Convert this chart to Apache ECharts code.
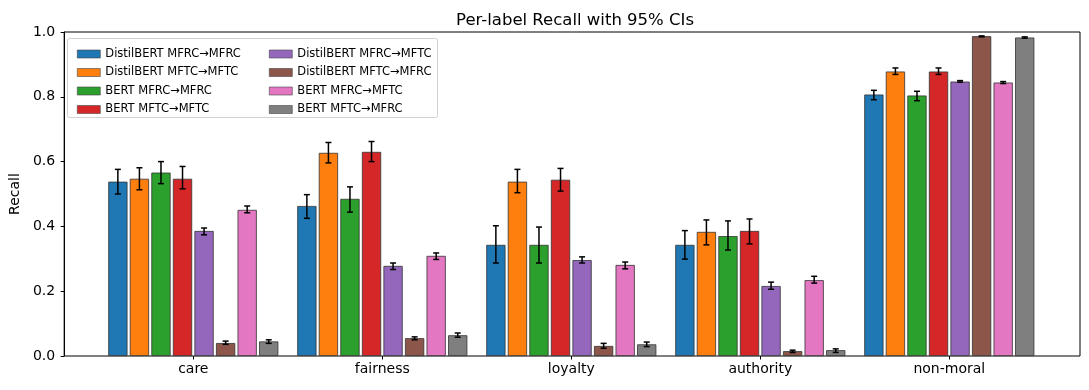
<!DOCTYPE html>
<html>
<head>
<meta charset="utf-8">
<script src="https://cdn.jsdelivr.net/npm/echarts@6/dist/echarts.min.js"></script>
<style>
  html, body { margin: 0; padding: 0; background: #fff; }
  #chart { width: 1089px; height: 390px; }
</style>
</head>
<body>
<div id="chart"></div>
<script>
// categories on the x axis
const labels = ['care', 'fairness', 'loyalty', 'authority', 'non-moral'];
const yTicks = [0, 0.2, 0.4, 0.6, 0.8, 1.0];

const modelNames = [
  'DistilBERT MFRC→MFRC', 'DistilBERT MFTC→MFTC', 'BERT MFRC→MFRC', 'BERT MFTC→MFTC',
  'DistilBERT MFRC→MFTC', 'DistilBERT MFTC→MFRC', 'BERT MFRC→MFTC', 'BERT MFTC→MFRC'
];
const colors = ['#1f77b4', '#ff7f0e', '#2ca02c', '#d62728', '#9467bd', '#8c564b', '#e377c2', '#7f7f7f'];

// recall + 95% CI bounds, per model
const dbMfrcMfrc   = [0.538, 0.463, 0.343, 0.343, 0.807];
const dbMfrcMfrcLo = [0.500, 0.425, 0.287, 0.299, 0.791];
const dbMfrcMfrcHi = [0.576, 0.498, 0.402, 0.387, 0.820];

const dbMftcMftc   = [0.547, 0.627, 0.538, 0.383, 0.878];
const dbMftcMftcLo = [0.513, 0.596, 0.504, 0.343, 0.869];
const dbMftcMftcHi = [0.581, 0.659, 0.576, 0.420, 0.889];

const bMfrcMfrc   = [0.566, 0.485, 0.343, 0.370, 0.804];
const bMfrcMfrcLo = [0.532, 0.444, 0.287, 0.327, 0.788];
const bMfrcMfrcHi = [0.600, 0.522, 0.398, 0.417, 0.817];

const bMftcMftc   = [0.547, 0.630, 0.544, 0.386, 0.878];
const bMftcMftcLo = [0.516, 0.600, 0.509, 0.346, 0.869];
const bMftcMftcHi = [0.585, 0.662, 0.579, 0.423, 0.889];

const dbMfrcMftc   = [0.386, 0.278, 0.296, 0.216, 0.847];
const dbMfrcMftcLo = [0.374, 0.267, 0.287, 0.206, 0.845];
const dbMfrcMftcHi = [0.395, 0.287, 0.306, 0.228, 0.850];

const dbMftcMfrc   = [0.040, 0.055, 0.031, 0.015, 0.987];
const dbMftcMfrcLo = [0.036, 0.050, 0.024, 0.011, 0.985];
const dbMftcMfrcHi = [0.046, 0.059, 0.039, 0.018, 0.988];

const bMfrcMftc   = [0.451, 0.309, 0.281, 0.234, 0.844];
const bMfrcMftcLo = [0.442, 0.298, 0.269, 0.225, 0.841];
const bMfrcMftcHi = [0.463, 0.318, 0.290, 0.246, 0.847];

const bMftcMfrc   = [0.045, 0.064, 0.036, 0.018, 0.983];
const bMftcMfrcLo = [0.039, 0.058, 0.029, 0.011, 0.981];
const bMftcMfrcHi = [0.050, 0.071, 0.043, 0.022, 0.985];

const values = [dbMfrcMfrc, dbMftcMftc, bMfrcMfrc, bMftcMftc, dbMfrcMftc, dbMftcMfrc, bMfrcMftc, bMftcMfrc];
const lows = [dbMfrcMfrcLo, dbMftcMftcLo, bMfrcMfrcLo, bMftcMftcLo, dbMfrcMftcLo, dbMftcMfrcLo, bMfrcMftcLo, bMftcMfrcLo];
const highs = [dbMfrcMfrcHi, dbMftcMftcHi, bMfrcMfrcHi, bMftcMftcHi, dbMfrcMftcHi, dbMftcMfrcHi, bMfrcMftcHi, bMftcMfrcHi];

const FONT = 'DejaVu Sans';
const CAT_GAP = 0.10;   // barCategoryGap
const BAR_GAP = 0.12;   // barGap
const N = modelNames.length;

// error bar drawn at the same offset the bar layout uses
function errRender(k) {
  return function (params, api) {
    const c = api.value(0);
    const band = api.size([1, 0])[0];
    const group = band * (1 - CAT_GAP);
    const w = group / (N + (N - 1) * BAR_GAP);
    const x = api.coord([c, 0])[0] - group / 2 + k * w * (1 + BAR_GAP) + w / 2;
    const yLo = api.coord([c, api.value(1)])[1];
    const yHi = api.coord([c, api.value(2)])[1];
    const st = { stroke: '#000', lineWidth: 1.5 };
    return {
      type: 'group',
      children: [
        { type: 'line', shape: { x1: x, y1: yLo, x2: x, y2: yHi }, style: st },
        { type: 'line', shape: { x1: x - 3, y1: yLo, x2: x + 3, y2: yLo }, style: st },
        { type: 'line', shape: { x1: x - 3, y1: yHi, x2: x + 3, y2: yHi }, style: st }
      ]
    };
  };
}

const barSeries = modelNames.map((name, k) => ({
  name: name,
  type: 'bar',
  xAxisIndex: 1,
  yAxisIndex: 1,
  barGap: (BAR_GAP * 100) + '%',
  barCategoryGap: (CAT_GAP * 100) + '%',
  itemStyle: { color: colors[k], borderColor: '#333', borderWidth: 0.8 },
  data: values[k]
}));

const errSeries = modelNames.map((name, k) => ({
  name: 'ci-' + k,
  type: 'custom',
  xAxisIndex: 1,
  yAxisIndex: 1,
  z: 5,
  silent: true,
  renderItem: errRender(k),
  data: labels.map((l, i) => [i, lows[k][i], highs[k][i]])
}));

const legendBase = {
  orient: 'vertical',
  top: 43,
  itemWidth: 23,
  itemHeight: 8,
  itemGap: 6.5,
  icon: 'rect',
  itemStyle: { borderColor: '#444', borderWidth: 0.6 },
  textStyle: { fontFamily: FONT, fontSize: 11.5, lineHeight: 12, color: '#000' }
};

const chart = echarts.init(document.getElementById('chart'), null, { renderer: 'canvas' });
chart.setOption({
  backgroundColor: '#fff',
  animation: false,
  title: {
    text: 'Per-label Recall with 95% CIs',
    left: 570,
    top: 7,
    textAlign: 'center',
    textStyle: { fontFamily: FONT, fontSize: 16.5, fontWeight: 'normal', color: '#000' }
  },
  legend: [
    Object.assign({}, legendBase, { left: 72, data: modelNames.slice(0, 4) }),
    Object.assign({}, legendBase, { left: 264, data: modelNames.slice(4) })
  ],
  graphic: [{
    type: 'rect',
    left: 67, top: 38, z: 2,
    shape: { width: 370, height: 79, r: 2 },
    style: { fill: 'rgba(255,255,255,0.8)', stroke: '#d0d0d0', lineWidth: 1 }
  }],
  grid: [
    { left: 61, right: 9, top: 32, bottom: 34, show: true, borderColor: '#000', borderWidth: 1, backgroundColor: 'transparent' },
    { left: 98.8, right: 45.2, top: 32, bottom: 34 }
  ],
  xAxis: [
    { gridIndex: 0, type: 'value', min: 0, max: 1, show: false },
    {
      gridIndex: 1,
      type: 'category',
      data: labels,
      axisLine: { show: false },
      axisTick: { show: true, alignWithLabel: true, length: 3.5, lineStyle: { color: '#000' } },
      axisLabel: { fontFamily: FONT, fontSize: 14, color: '#000', margin: 6 }
    }
  ],
  yAxis: [
    {
      gridIndex: 0,
      type: 'value',
      min: yTicks[0],
      max: yTicks[yTicks.length - 1],
      interval: 0.2,
      name: 'Recall',
      nameLocation: 'middle',
      nameGap: 36,
      nameTextStyle: { fontFamily: FONT, fontSize: 14, color: '#000' },
      splitLine: { show: false },
      axisLine: { show: true, lineStyle: { color: '#000' } },
      axisTick: { show: true, length: 3.5, lineStyle: { color: '#000' } },
      axisLabel: { fontFamily: FONT, fontSize: 14, color: '#000', margin: 9, formatter: v => v.toFixed(1) }
    },
    { gridIndex: 1, type: 'value', min: 0, max: 1, show: false }
  ],
  series: barSeries.concat(errSeries)
});
</script>
</body>
</html>
